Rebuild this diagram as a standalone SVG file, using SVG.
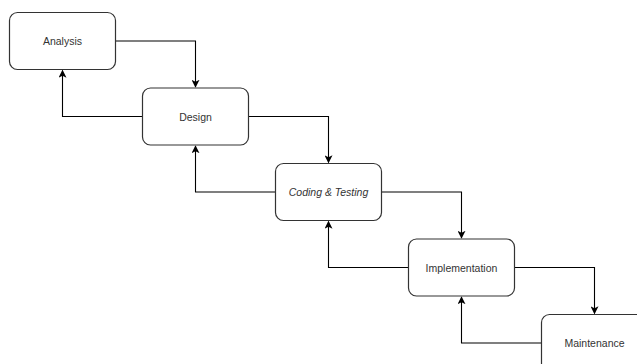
<svg xmlns="http://www.w3.org/2000/svg" width="637" height="364" viewBox="0 0 637 364">
<style>
.box{fill:#ffffff;stroke:#333333;stroke-width:1.2}
.lbl{font-family:"Liberation Sans",Arial,sans-serif;font-size:10.5px;fill:#333333;text-anchor:middle;dominant-baseline:central}
.it{font-style:italic}
.edge{fill:none;stroke:#000000;stroke-width:1.1}
</style>
<defs>
<marker id="arr" viewBox="0 0 10 10" refX="9" refY="5" markerWidth="8" markerHeight="8" markerUnits="userSpaceOnUse" orient="auto">
<path d="M0,0 L10,5 L0,10 L2.5,5 Z" fill="#000000"/>
</marker>
</defs>
<rect width="637" height="364" fill="#ffffff"/>
<g id="connectors">
<path class="edge" d="M115.5,41 H195.5 V87" marker-end="url(#arr)"/>
<path class="edge" d="M142.5,116.5 H62.5 V70.5" marker-end="url(#arr)"/>
<path class="edge" d="M248.5,116.5 H328.5 V162.5" marker-end="url(#arr)"/>
<path class="edge" d="M275.5,192 H195.5 V146" marker-end="url(#arr)"/>
<path class="edge" d="M381.5,192 H461.5 V238" marker-end="url(#arr)"/>
<path class="edge" d="M408.5,267.5 H328.5 V221.5" marker-end="url(#arr)"/>
<path class="edge" d="M514.5,267.5 H594.5 V313.5" marker-end="url(#arr)"/>
<path class="edge" d="M541.5,343 H461.5 V297" marker-end="url(#arr)"/>
</g>
<g id="analysis">
<rect class="box" x="9.5" y="12.5" width="106" height="57" rx="8" ry="8"/>
<text class="lbl" x="62.5" y="41">Analysis</text>
</g>
<g id="design">
<rect class="box" x="142.5" y="88" width="106" height="57" rx="8" ry="8"/>
<text class="lbl" x="195.5" y="116.5">Design</text>
</g>
<g id="coding">
<rect class="box" x="275.5" y="163.5" width="106" height="57" rx="8" ry="8"/>
<text class="lbl it" x="328.5" y="192">Coding &amp; Testing</text>
</g>
<g id="implementation">
<rect class="box" x="408.5" y="239" width="106" height="57" rx="8" ry="8"/>
<text class="lbl" x="461.5" y="267.5">Implementation</text>
</g>
<g id="maintenance">
<rect class="box" x="541.5" y="314.5" width="106" height="57" rx="8" ry="8"/>
<text class="lbl" x="594.5" y="343">Maintenance</text>
</g>
</svg>
